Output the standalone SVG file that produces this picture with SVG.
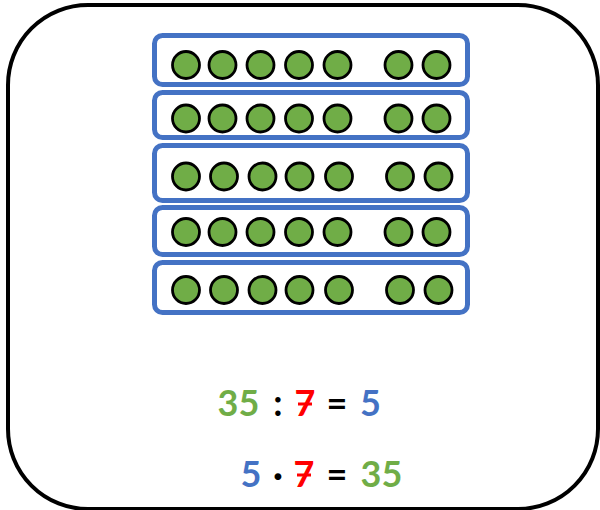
<svg xmlns="http://www.w3.org/2000/svg" width="600" height="510" viewBox="0 0 600 510">
<defs>
<style>
.frame{fill:#fff;stroke:#000;stroke-width:4}
.row{fill:#fff;stroke:#4472C4;stroke-width:5}
.dot{fill:#70AD47;stroke:#000;stroke-width:2.8}
.t{font-family:Lato,"Open Sans","Liberation Sans",sans-serif;font-size:36px;font-weight:700;text-anchor:middle}
.g{fill:#70AD47}.r{fill:#FF0000}.b{fill:#4472C4}.k{fill:#000}
</style>
<g id="d"><circle class="dot" cx="0" cy="0" r="13.5"/></g>
</defs>
<rect class="frame" x="8" y="5" width="590" height="504" rx="80" ry="80"/>
<g id="row1">
<rect class="row" x="154.5" y="35.5" width="313" height="49" rx="8"/>
<use href="#d" x="186" y="65"/><use href="#d" x="222.5" y="65"/><use href="#d" x="260.5" y="65"/><use href="#d" x="299" y="65"/><use href="#d" x="337.5" y="65"/><use href="#d" x="398.5" y="65"/><use href="#d" x="436.5" y="65"/>
</g>
<g id="row2">
<rect class="row" x="154.5" y="92.5" width="313" height="45" rx="8"/>
<use href="#d" x="186" y="118.5"/><use href="#d" x="222.5" y="118.5"/><use href="#d" x="260.5" y="118.5"/><use href="#d" x="299" y="118.5"/><use href="#d" x="337.5" y="118.5"/><use href="#d" x="398.5" y="118.5"/><use href="#d" x="436.5" y="118.5"/>
</g>
<g id="row3">
<rect class="row" x="154.5" y="145.5" width="313" height="55" rx="8"/>
<use href="#d" x="186" y="176.5"/><use href="#d" x="224" y="176.5"/><use href="#d" x="262.5" y="176.5"/><use href="#d" x="299.5" y="176.5"/><use href="#d" x="339" y="176.5"/><use href="#d" x="400" y="176.5"/><use href="#d" x="438.5" y="176.5"/>
</g>
<g id="row4">
<rect class="row" x="154.5" y="207.5" width="313" height="47" rx="8"/>
<use href="#d" x="186" y="232"/><use href="#d" x="222.5" y="232"/><use href="#d" x="260.5" y="232"/><use href="#d" x="299" y="232"/><use href="#d" x="337.5" y="232"/><use href="#d" x="398.5" y="232"/><use href="#d" x="436.5" y="232"/>
</g>
<g id="row5">
<rect class="row" x="154.5" y="262.5" width="313" height="50" rx="8"/>
<use href="#d" x="186" y="290"/><use href="#d" x="224" y="290"/><use href="#d" x="262.5" y="290"/><use href="#d" x="299.5" y="290"/><use href="#d" x="339" y="290"/><use href="#d" x="400" y="290"/><use href="#d" x="438.5" y="290"/>
</g>
<g id="eq1">
<text class="t g" x="238.5" y="416">35</text>
<text class="t k" x="278" y="416">:</text>
<text class="t r" x="305" y="416">7</text>
<line x1="298" y1="404" x2="312" y2="404" stroke="#FF0000" stroke-width="3"/>
<text class="t k" x="337" y="416">=</text>
<text class="t b" x="370.5" y="416">5</text>
</g>
<g id="eq2">
<text class="t b" x="251" y="487">5</text>
<text class="t k" x="278" y="487">·</text>
<text class="t r" x="304" y="487">7</text>
<line x1="297" y1="475" x2="311" y2="475" stroke="#FF0000" stroke-width="3"/>
<text class="t k" x="337" y="487">=</text>
<text class="t g" x="381.5" y="487">35</text>
</g>
</svg>
